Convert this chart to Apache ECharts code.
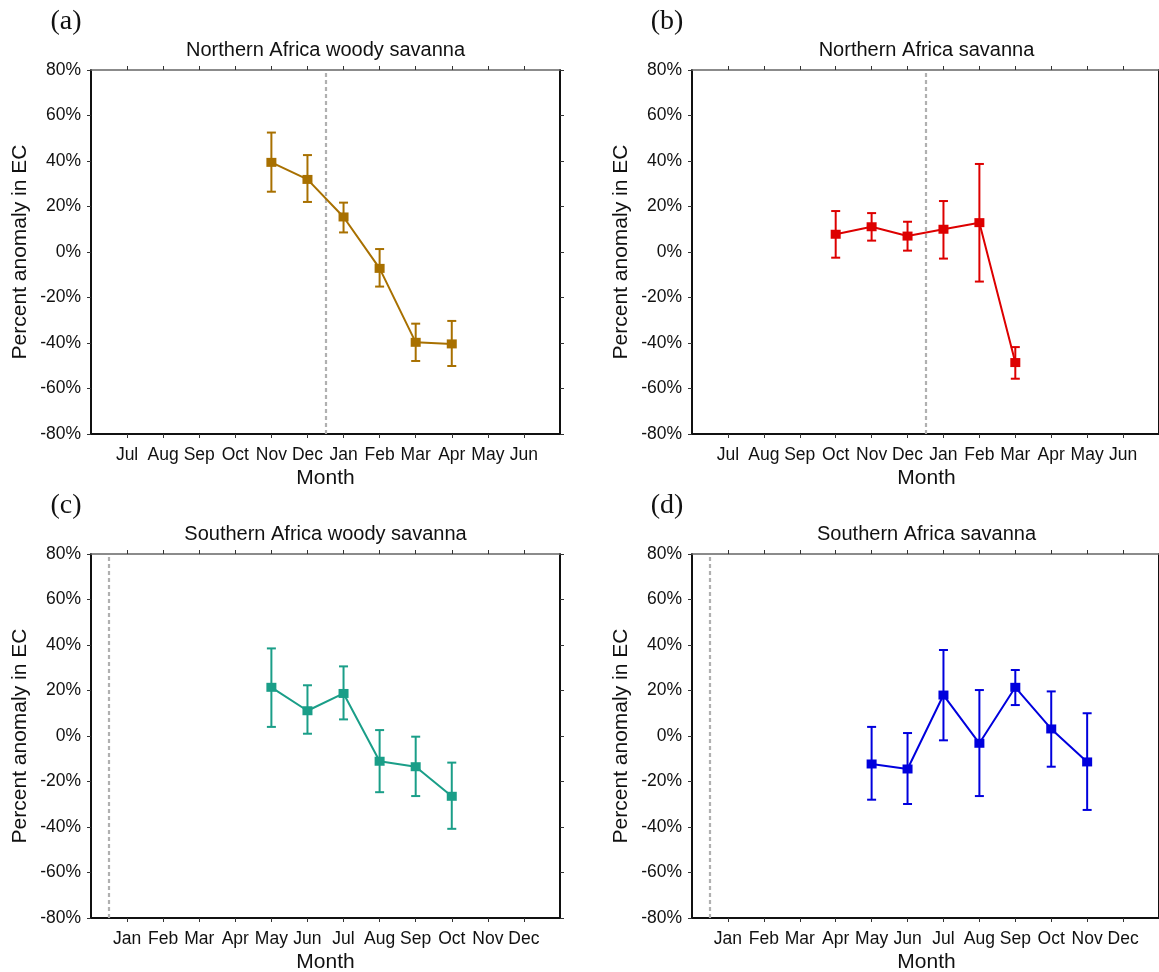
<!DOCTYPE html>
<html>
<head>
<meta charset="utf-8">
<script src="https://cdn.jsdelivr.net/npm/echarts@6/dist/echarts.min.js"></script>
<style>
html,body{margin:0;padding:0;background:#fff;}
#c{width:1159px;height:972px;}
</style>
</head>
<body>
<div id="c"></div>
<script>
// Tick labels
const northMonthLabels = ['Jul','Aug','Sep','Oct','Nov','Dec','Jan','Feb','Mar','Apr','May','Jun'];
const southMonthLabels = ['Jan','Feb','Mar','Apr','May','Jun','Jul','Aug','Sep','Oct','Nov','Dec'];
const yTicks = [-80,-60,-40,-20,0,20,40,60,80];

// Panel titles
const panelLetters = ['(a)','(b)','(c)','(d)'];
const panelTitles = ['Northern Africa woody savanna','Northern Africa savanna','Southern Africa woody savanna','Southern Africa savanna'];

// (a) Northern Africa woody savanna
const aMonths = ['Nov','Dec','Jan','Feb','Mar','Apr'];
const aMean  = [39.4, 31.9, 15.4, -7.2, -39.7, -40.4];
const aUpper = [52.5, 42.6, 21.7, 1.3, -31.5, -30.3];
const aLower = [26.5, 22.0, 8.6, -15.2, -47.9, -50.1];

// (b) Northern Africa savanna
const bMonths = ['Oct','Nov','Dec','Jan','Feb','Mar'];
const bMean  = [7.8, 11.1, 7.0, 10.0, 12.9, -48.6];
const bUpper = [18.0, 17.1, 13.3, 22.4, 38.7, -41.8];
const bLower = [-2.5, 5.0, 0.6, -2.9, -13.0, -55.7];

// (c) Southern Africa woody savanna
const cMonths = ['May','Jun','Jul','Aug','Sep','Oct'];
const cMean  = [21.4, 11.1, 18.7, -11.1, -13.5, -26.5];
const cUpper = [38.5, 22.3, 30.6, 2.6, -0.3, -11.7];
const cLower = [4.0, 1.0, 7.3, -24.7, -26.4, -40.8];

// (d) Southern Africa savanna
const dMonths = ['May','Jun','Jul','Aug','Sep','Oct','Nov'];
const dMean  = [-12.3, -14.5, 18.0, -3.2, 21.4, 3.1, -11.4];
const dUpper = [4.0, 1.3, 37.8, 20.2, 29.0, 19.6, 10.0];
const dLower = [-28.0, -29.9, -1.9, -26.4, 13.6, -13.5, -32.5];

// Year boundary (dashed line) position, in month slots
const northDivider = [6.5];
const southDivider = [0.5];

const colors = ['#A87000', '#DD0000', '#1A9E88', '#0000DD'];

const panels = [
  {labels: northMonthLabels, months: aMonths, mean: aMean, upper: aUpper, lower: aLower, divider: northDivider},
  {labels: northMonthLabels, months: bMonths, mean: bMean, upper: bUpper, lower: bLower, divider: northDivider},
  {labels: southMonthLabels, months: cMonths, mean: cMean, upper: cUpper, lower: cLower, divider: southDivider},
  {labels: southMonthLabels, months: dMonths, mean: dMean, upper: dUpper, lower: dLower, divider: southDivider}
];

const layout = [
  {left: 91, top: 70},
  {left: 692, top: 70},
  {left: 91, top: 554},
  {left: 692, top: 554}
];
const GW = 469, GH = 364;

const font = '"Liberation Sans", Arial, sans-serif';
const monthPositions = [1,2,3,4,5,6,7,8,9,10,11,12];

const grids = [], xAxes = [], yAxes = [], series = [], graphics = [];

panels.forEach((p, i) => {
  const L = layout[i];
  grids.push({left: L.left, top: L.top, width: GW, height: GH, containLabel: false, show: false});
  const axLine = {show: true, onZero: false, lineStyle: {color: '#111', width: 2}};
  const tick = {show: true, inside: false, length: 4, lineStyle: {color: '#333', width: 1}};
  xAxes.push({
    type: 'value', gridIndex: i, position: 'bottom', min: 0, max: 13, interval: 1,
    axisLine: axLine,
    axisTick: Object.assign({}, tick, {customValues: monthPositions}),
    axisLabel: {customValues: monthPositions, color: '#111', fontFamily: font, fontSize: 17.5, margin: 12,
      formatter: v => p.labels[Math.round(v) - 1] || ''},
    splitLine: {show: false}
  });
  xAxes.push({
    type: 'value', gridIndex: i, position: 'top', min: 0, max: 13, interval: 1,
    axisLine: {show: true, onZero: false, lineStyle: {color: '#666', width: 1.5}},
    axisTick: Object.assign({}, tick, {customValues: monthPositions}),
    axisLabel: {show: false},
    splitLine: {show: false}
  });
  yAxes.push({
    type: 'value', gridIndex: i, position: 'left', min: -80, max: 80, interval: 20,
    axisLine: axLine, axisTick: tick,
    axisLabel: {color: '#111', fontFamily: font, fontSize: 17.5, margin: 10, formatter: '{value}%'},
    splitLine: {show: false}
  });
  yAxes.push({
    type: 'value', gridIndex: i, position: 'right', min: -80, max: 80, interval: 20,
    axisLine: axLine, axisTick: tick,
    axisLabel: {show: false},
    splitLine: {show: false}
  });

  const xs = p.months.map(m => p.labels.indexOf(m) + 1);
  const lineData = xs.map((x, k) => [x, p.mean[k]]);
  const errData = xs.map((x, k) => [x, p.lower[k], p.upper[k]]);
  const color = colors[i];

  // dashed divider
  series.push({
    type: 'line', xAxisIndex: 2 * i, yAxisIndex: 2 * i, data: [], silent: true,
    markLine: {
      silent: true, symbol: ['none', 'none'], label: {show: false},
      lineStyle: {color: '#b0b0b0', type: [4, 3], width: 2.2},
      data: p.divider.map(v => ({xAxis: v}))
    }
  });
  // error bars
  series.push({
    type: 'custom', xAxisIndex: 2 * i, yAxisIndex: 2 * i, data: errData, silent: true,
    encode: {x: 0, y: [1, 2]},
    renderItem: (params, api) => {
      const lo = api.coord([api.value(0), api.value(1)]);
      const hi = api.coord([api.value(0), api.value(2)]);
      const hw = 4.5;
      const st = {stroke: color, lineWidth: 2};
      return {type: 'group', children: [
        {type: 'line', shape: {x1: lo[0], y1: lo[1], x2: hi[0], y2: hi[1]}, style: st},
        {type: 'line', shape: {x1: lo[0] - hw, y1: lo[1], x2: lo[0] + hw, y2: lo[1]}, style: st},
        {type: 'line', shape: {x1: hi[0] - hw, y1: hi[1], x2: hi[0] + hw, y2: hi[1]}, style: st}
      ]};
    }
  });
  // mean line with squares
  series.push({
    type: 'line', xAxisIndex: 2 * i, yAxisIndex: 2 * i, data: lineData,
    symbol: 'rect', symbolSize: [10, 9], showSymbol: true,
    lineStyle: {color: color, width: 2}, itemStyle: {color: color},
    silent: true, z: 5
  });

  const cx = L.left + GW / 2;
  graphics.push({type: 'text', x: L.left - 25, y: L.top - 48, style: {text: panelLetters[i], font: '28px "Liberation Serif", "Times New Roman", serif', fill: '#111', align: 'center', verticalAlign: 'middle'}});
  graphics.push({type: 'text', x: cx, y: L.top - 20, style: {text: panelTitles[i], font: '20px ' + font, fill: '#111', align: 'center', verticalAlign: 'middle'}});
  graphics.push({type: 'text', x: cx, y: L.top + GH + 44, style: {text: 'Month', font: '21px ' + font, fill: '#111', align: 'center', verticalAlign: 'middle'}});
  graphics.push({type: 'text', x: L.left - 71, y: L.top + GH / 2, rotation: Math.PI / 2, style: {text: 'Percent anomaly in EC', font: '21px ' + font, fill: '#111', align: 'center', verticalAlign: 'middle'}});
});

const chart = echarts.init(document.getElementById('c'), null, {renderer: 'canvas'});
chart.setOption({
  animation: false,
  backgroundColor: '#fff',
  grid: grids, xAxis: xAxes, yAxis: yAxes, series: series,
  graphic: graphics
});
</script>
</body>
</html>
